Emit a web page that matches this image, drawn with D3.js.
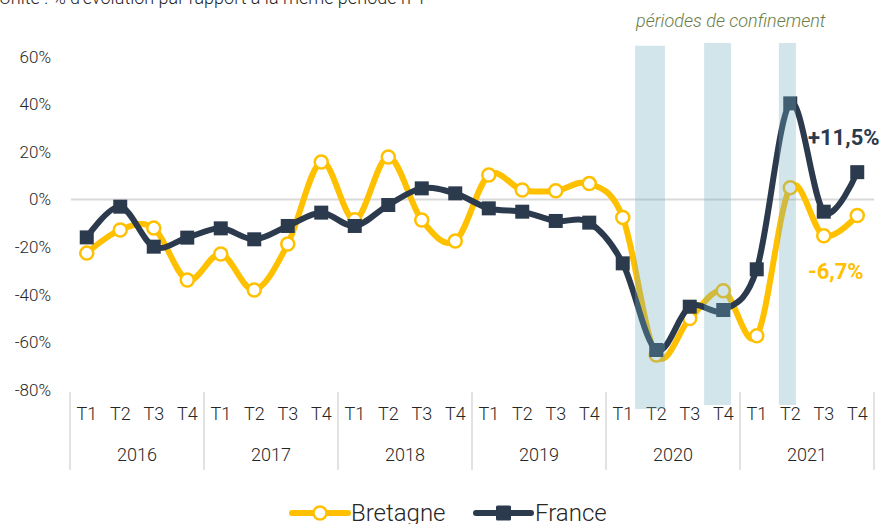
<!DOCTYPE html>
<html>
<head>
<meta charset="utf-8">
<script src="https://cdn.jsdelivr.net/npm/d3@7"></script>
<style>
  body { margin: 0; background: #fff; }
  svg text { font-family: Roboto, "DejaVu Sans", sans-serif; font-weight: 300; fill: #262626; }
</style>
</head>
<body>
<div id="chart"></div>
<script>
const years = ['2016', '2017', '2018', '2019', '2020', '2021'];
const quarters = ['T1', 'T2', 'T3', 'T4'];
const bretagne = [-22.5, -12.8, -12, -33.8, -22.9, -38, -18.7, 15.8,
    -8.5, 17.9, -8.6, -17.4, 10.3, 4, 3.7, 6.7,
    -7.5, -65.3, -50, -38.3, -57.2, 5, -15.2, -6.7];
const france = [-15.9, -3, -19.8, -16, -12.1, -16.7, -11.1, -5.5,
    -11.1, -2.3, 4.7, 2.6, -3.7, -5.1, -9, -9.7,
    -26.8, -63.2, -45, -46.4, -29.3, 40.4, -5.1, 11.5];
const yTicks = [-80, -60, -40, -20, 0, 20, 40, 60];
// lockdown periods, in quarter units from 2016 T1
const lockdowns = [[16.87, 17.76], [18.93, 19.73], [21.16, 21.67]];

const width = 881;
const height = 524;
const yellow = '#ffc000';
const navy = '#2c3a4d';

const svg = d3.select('#chart').append('svg')
    .attr('width', width)
    .attr('height', height);

const keys = years.flatMap(y => quarters.map(q => `${y}-${q}`));

const xScale = d3.scaleBand()
    .domain(keys)
    .range([70, 874]);
const xLin = d3.scaleLinear()
    .domain([0, keys.length])
    .range([70, 874]);
const xYear = d3.scaleBand()
    .domain(years)
    .range([70, 874]);
const yScale = d3.scaleLinear()
    .domain([-80, 60])
    .range([390, 56.7]);

const cx = (d, i) => xScale(keys[i]) + xScale.bandwidth() / 2;

// title (cut at the top, as in the source)
svg.append('text')
    .attr('x', -1)
    .attr('y', 4)
    .style('font-size', '18px')
    .text("Unité : % d'évolution par rapport à la même période n-1");

// y axis
const yAxis = svg.append('g')
    .attr('transform', 'translate(54, 0)')
    .call(d3.axisLeft(yScale).tickValues(yTicks).tickSize(0).tickPadding(3).tickFormat(d => d + '%'));
yAxis.select('.domain').remove();
yAxis.selectAll('text').style('font-size', '17px').style('font-family', null);

// zero line
svg.append('line')
    .attr('x1', 71).attr('x2', 874)
    .attr('y1', yScale(0)).attr('y2', yScale(0))
    .attr('stroke', '#d9d9d9')
    .attr('stroke-width', 2);

// x axis: quarters
const qAxis = svg.append('g')
    .attr('transform', 'translate(0, 407)')
    .call(d3.axisBottom(xScale).tickSize(0).tickPadding(0).tickFormat(d => d.split('-')[1]));
qAxis.select('.domain').remove();
qAxis.selectAll('text').style('font-size', '18px').style('font-family', null);

// x axis: years
const yrAxis = svg.append('g')
    .attr('transform', 'translate(0, 448)')
    .call(d3.axisBottom(xYear).tickSize(0).tickPadding(0));
yrAxis.select('.domain').remove();
yrAxis.selectAll('text').style('font-size', '18px').style('font-family', null);

svg.append('g').selectAll('line')
    .data(d3.range(years.length + 1))
    .join('line')
    .attr('x1', i => xLin(i * 4)).attr('x2', i => xLin(i * 4))
    .attr('y1', 392).attr('y2', 470)
    .attr('stroke', '#d9d9d9')
    .attr('stroke-width', 1.5);

const line = d3.line()
    .x(cx)
    .y(d => yScale(d))
    .curve(d3.curveCatmullRom.alpha(0));

// Bretagne
svg.append('path')
    .datum(bretagne)
    .attr('d', line)
    .attr('fill', 'none')
    .attr('stroke', yellow)
    .attr('stroke-width', 6);
svg.append('g').selectAll('circle')
    .data(bretagne)
    .join('circle')
    .attr('cx', cx)
    .attr('cy', d => yScale(d))
    .attr('r', 6.5)
    .attr('fill', '#fff')
    .attr('stroke', yellow)
    .attr('stroke-width', 2.5);

// France
svg.append('path')
    .datum(france)
    .attr('d', line)
    .attr('fill', 'none')
    .attr('stroke', navy)
    .attr('stroke-width', 6);
svg.append('g').selectAll('rect')
    .data(france)
    .join('rect')
    .attr('x', (d, i) => cx(d, i) - 7)
    .attr('y', d => yScale(d) - 7)
    .attr('width', 14)
    .attr('height', 14)
    .attr('fill', navy);

// lockdown bands over the lines
svg.append('g').selectAll('rect')
    .data(lockdowns)
    .join('rect')
    .attr('x', d => xLin(d[0]))
    .attr('width', d => xLin(d[1]) - xLin(d[0]))
    .attr('y', (d, i) => i === 0 ? 45.7 : 43)
    .attr('height', (d, i) => i === 0 ? 409 - 45.7 : 405 - 43)
    .attr('fill', '#6faec0')
    .attr('fill-opacity', 0.32);

svg.append('text')
    .attr('x', 636)
    .attr('y', 27)
    .style('font-size', '18px')
    .style('font-style', 'italic')
    .style('fill', '#6b7d45')
    .text('périodes de confinement');

// end labels
svg.append('text')
    .attr('x', 808)
    .attr('y', 145)
    .style('font-size', '22px')
    .style('font-weight', 700)
    .style('fill', navy)
    .text('+11,5%');
svg.append('text')
    .attr('x', 808)
    .attr('y', 279)
    .style('font-size', '22px')
    .style('font-weight', 700)
    .style('fill', yellow)
    .text('-6,7%');

// legend
const legend = svg.append('g').attr('transform', 'translate(0, 513)');
legend.append('line')
    .attr('x1', 292).attr('x2', 348)
    .attr('stroke', yellow).attr('stroke-width', 6)
    .attr('stroke-linecap', 'round');
legend.append('circle')
    .attr('cx', 320).attr('r', 6.5)
    .attr('fill', '#fff').attr('stroke', yellow).attr('stroke-width', 2.5);
legend.append('text')
    .attr('x', 351).attr('dy', '0.33em')
    .style('font-size', '24px')
    .text('Bretagne');
legend.append('line')
    .attr('x1', 476).attr('x2', 531)
    .attr('stroke', navy).attr('stroke-width', 6)
    .attr('stroke-linecap', 'round');
legend.append('rect')
    .attr('x', 496).attr('y', -7.5).attr('width', 15).attr('height', 15)
    .attr('rx', 1.5)
    .attr('fill', navy);
legend.append('text')
    .attr('x', 535).attr('dy', '0.33em')
    .style('font-size', '24px')
    .text('France');
</script>
</body>
</html>
